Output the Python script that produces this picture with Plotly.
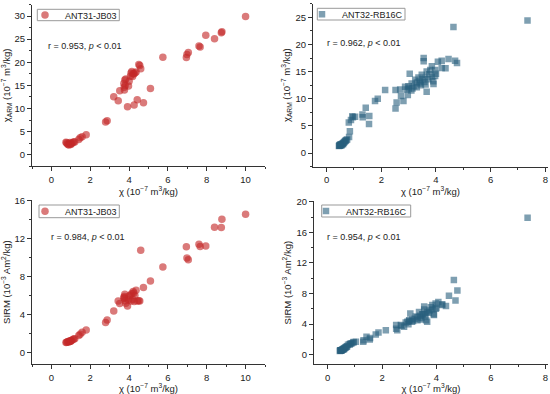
import plotly.graph_objects as go

# ---- ANT31-JB03 (red) : chi, chi_ARM, SIRM ----
red_chi = [10.0, 8.78, 8.75, 8.4, 7.95, 7.6, 7.66, 7.05, 6.98, 6.95, 5.74, 5.1, 4.74, 4.6, 4.55, 4.5,
           4.42, 4.36, 4.26, 4.3, 4.24, 4.21, 4.14, 4.1, 4.18, 4.07, 4.0, 3.97, 3.92, 3.83, 3.78, 3.76,
           3.75, 3.73, 3.8, 3.52, 3.44, 3.21, 2.87, 2.79, 1.79, 1.58, 1.48, 1.41, 1.15, 1.1, 1.03, 0.98,
           0.93, 0.86, 0.82, 0.78, 0.75, 0.9, 1.0, 0.95, 1.2]
red_arm = [29.9, 26.6, 26.4, 25.1, 25.85, 23.5, 23.3, 22.1, 21.7, 21.05, 21.1, 14.35, 11.25, 18.6, 19.3, 19.5,
           11.9, 17.9, 10.75, 17.7, 17.45, 17.6, 18.0, 17.7, 16.9, 17.0, 15.9, 14.85, 10.4, 16.4, 16.15, 14.0,
           14.6, 15.4, 15.0, 13.85, 11.7, 12.55, 7.35, 7.1, 4.33, 3.9, 3.68, 3.3, 2.8, 2.6, 2.5, 2.3,
           2.45, 2.24, 2.4, 2.6, 2.7, 2.1, 2.2, 2.65, 2.75]
red_sirm = [14.6, 14.07, 13.2, 13.23, 11.26, 11.44, 11.2, 9.82, 10.0, 11.19, 9.05, 7.58, 6.88, 10.8, 5.47, 5.5,
            5.47, 6.6, 5.4, 6.04, 6.3, 6.46, 6.25, 5.47, 5.65, 6.1, 6.0, 5.6, 4.95, 5.23, 6.18, 5.75,
            5.93, 5.8, 5.5, 5.19, 5.47, 4.42, 3.47, 3.19, 2.42, 2.18, 1.96, 1.82, 1.47, 1.4, 1.3, 1.25,
            1.2, 1.19, 1.15, 1.12, 1.1, 1.15, 1.22, 1.28, 1.5]

# ---- ANT32-RB16C (blue) : chi, chi_ARM, SIRM ----
blue_chi = [7.35, 4.64, 4.77, 4.7, 4.46, 4.35, 4.21, 4.07, 4.21, 3.97, 3.85, 3.79, 3.55, 3.55, 3.97, 3.66,
            3.48, 3.36, 3.04, 3.24, 3.11, 2.99, 2.93, 2.87, 3.66, 3.91, 3.58, 3.72, 3.45, 3.3, 3.14, 2.97,
            2.69, 2.81, 2.72, 2.56, 2.52, 2.52, 2.14, 1.87, 1.77, 1.43, 1.31, 1.32, 1.56, 1.55, 1.04, 0.94,
            0.96, 0.89, 0.81, 0.85, 0.82, 0.75, 0.45, 0.47, 0.48, 0.5, 0.52, 0.53, 0.55, 0.56, 0.58, 0.6,
            0.6, 0.62, 0.64, 0.66, 0.68, 0.7, 0.72, 0.5, 0.46, 3.2, 3.4, 3.5, 3.6, 3.1, 3.3, 3.75,
            3.85, 3.0, 3.42, 3.62, 3.9, 4.0]
blue_arm = [24.4, 23.2, 16.6, 17.0, 17.3, 15.6, 17.0, 16.8, 15.65, 15.3, 16.0, 15.3, 17.5, 16.9, 14.2, 15.0,
            14.4, 13.9, 14.6, 13.5, 12.8, 12.3, 11.7, 12.2, 11.3, 12.7, 13.1, 13.6, 12.5, 12.1, 11.9, 10.7,
            11.7, 9.6, 10.5, 9.3, 8.2, 11.6, 11.6, 10.0, 9.6, 8.35, 7.1, 6.6, 6.8, 5.35, 6.7, 6.75,
            6.6, 6.1, 5.6, 4.0, 2.95, 2.5, 1.3, 1.4, 1.5, 1.35, 1.5, 1.6, 1.45, 1.65, 1.7, 1.8,
            1.6, 1.9, 2.0, 2.1, 2.2, 2.3, 2.4, 1.55, 1.35, 12.3, 13.2, 13.6, 13.9, 11.5, 13.0, 14.5,
            14.0, 11.9, 12.8, 12.6, 13.2, 14.6]
blue_sirm = [17.9, 9.76, 8.4, 7.1, 7.7, 6.36, 6.5, 6.9, 6.6, 6.7, 6.5, 6.2, 5.9, 6.3, 6.0, 5.6,
             5.3, 5.6, 5.4, 5.0, 4.6, 4.4, 4.3, 4.2, 4.3, 5.2, 5.0, 5.5, 4.8, 4.5, 4.4, 4.0,
             3.9, 3.66, 3.8, 3.2, 3.4, 3.9, 3.2, 2.9, 2.65, 2.35, 1.7, 1.9, 2.2, 2.0, 1.7, 1.6,
             1.65, 1.5, 1.35, 1.48, 1.4, 1.3, 0.5, 0.55, 0.6, 0.52, 0.6, 0.65, 0.7, 0.68, 0.75, 0.8,
             0.72, 0.85, 0.9, 0.95, 1.0, 1.05, 1.1, 0.58, 0.6, 4.7, 5.1, 5.3, 5.4, 4.3, 4.9, 5.8,
             5.9, 4.5, 4.6, 4.5, 5.3, 6.1]

red_name = "ANT31-JB03"
blue_name = "ANT32-RB16C"
r_texts = ["r = 0.953, <i>p</i> < 0.01", "r = 0.962, <i>p</i> < 0.01",
           "r = 0.984, <i>p</i> < 0.01", "r = 0.954, <i>p</i> < 0.01"]

W, H = 550, 394
FONT = "Liberation Sans, Arial, sans-serif"
RED = "rgba(196,40,40,0.62)"
BLUE = "rgba(40,95,125,0.6)"

# panel geometry in pixels: (x0, x1, ytop, ybottom)
panels = [(32, 265, 4.5, 166.3), (313, 548, 3.7, 166.6),
          (32, 265, 200, 364.3), (314, 548, 201, 364.3)]
# legend boxes (x0, x1, y0, y1), legend text start, r-text (x, y) in pixels
boxes = [(37.3, 119.3, 9.3, 20.7), (317.3, 405, 8.3, 20),
         (39, 119.3, 205, 217.7), (321.7, 410.7, 205, 217)]
legtext_x = [66, 343, 66, 347]
rpos = [(46, 46), (325, 43.3), (49.3, 236.7), (325, 236.7)]

fig = go.Figure()

def add(chi, yv, color, symbol, size, name, idx):
    sfx = "" if idx == 1 else str(idx)
    fig.add_trace(go.Scatter(
        x=chi, y=yv, mode="markers", name=name,
        marker=dict(color=color, symbol=symbol, size=size, line=dict(width=0)),
        xaxis="x" + sfx, yaxis="y" + sfx, legend="legend" + sfx, showlegend=True))

add(red_chi, red_arm, RED, "circle", 7.5, red_name, 1)
add(blue_chi, blue_arm, BLUE, "square", 6.5, blue_name, 2)
add(red_chi, red_sirm, RED, "circle", 7.5, red_name, 3)
add(blue_chi, blue_sirm, BLUE, "square", 6.5, blue_name, 4)

xranges = [[-1, 11], [-0.5, 8.1], [-1, 11], [-0.5, 8.1]]
xd = [2, 2, 2, 2]
yranges = [[-2.5, 32.5], [-2.5, 27.5], [-1.2, 16.1], [-1.25, 20.1]]
yd = [5, 5, 4, 4]
ytitles = ["χ<sub>ARM</sub> (10<sup>−7</sup> m<sup>3</sup>/kg)",
           "χ<sub>ARM</sub> (10<sup>−7</sup> m<sup>3</sup>/kg)",
           "SIRM (10<sup>−3</sup> Am<sup>2</sup>/kg)",
           "SIRM (10<sup>−3</sup> Am<sup>2</sup>/kg)"]
xtitle = "χ (10<sup>−7</sup> m<sup>3</sup>/kg)"

layout = dict(width=W, height=H, margin=dict(l=0, r=0, t=0, b=0, autoexpand=False),
              paper_bgcolor="white", plot_bgcolor="white",
              font=dict(family=FONT, size=9.5, color="#222"))
annotations = []
shapes = []
for i, (x0, x1, yt, yb) in enumerate(panels):
    n = i + 1
    sfx = "" if n == 1 else str(n)
    axcommon = dict(showline=True, linecolor="#333", linewidth=1, ticks="outside",
                    ticklen=4, tickcolor="#333", showgrid=False, zeroline=False,
                    mirror=False, automargin=False, tickfont=dict(size=9.5, color="#222"))
    layout["xaxis" + sfx] = dict(axcommon, domain=[x0 / W, x1 / W], range=xranges[i],
                                 dtick=xd[i], tick0=0, anchor="y" + sfx,
                                 minor=dict(dtick=xd[i] / 2, tick0=0, ticks="outside", ticklen=2, tickcolor="#333"),
                                 title=dict(text=xtitle, standoff=1, font=dict(size=9.5)))
    layout["yaxis" + sfx] = dict(axcommon, domain=[1 - yb / H, 1 - yt / H], range=yranges[i],
                                 dtick=yd[i], tick0=0, anchor="x" + sfx,
                                 minor=dict(dtick=yd[i] / 2, tick0=0, ticks="outside", ticklen=2, tickcolor="#333"),
                                 title=dict(text=ytitles[i], standoff=3, font=dict(size=9.5)))
    bx0, bx1, by0, by1 = boxes[i]
    L = legtext_x[i] - 29
    layout["legend" + sfx] = dict(x=L / W, y=1 - ((by0 + by1) / 2) / H, xanchor="left", yanchor="middle",
                                  borderwidth=0, bgcolor="rgba(0,0,0,0)",
                                  font=dict(size=9), itemwidth=30, indentation=-12,
                                  tracegroupgap=0)
    shapes.append(dict(type="rect", xref="paper", yref="paper", layer="below",
                       x0=bx0 / W, x1=bx1 / W, y0=1 - by1 / H, y1=1 - by0 / H,
                       line=dict(color="#999", width=1), fillcolor="white"))
    annotations.append(dict(text=r_texts[i], xref="paper", yref="paper",
                            x=rpos[i][0] / W, y=1 - rpos[i][1] / H,
                            xanchor="left", yanchor="middle", showarrow=False,
                            font=dict(size=9, color="#222")))
layout["annotations"] = annotations
layout["shapes"] = shapes
fig.update_layout(**layout)
fig.write_html("out.html", config={"displayModeBar": False},
               post_script="document.body.style.margin='0px';")
